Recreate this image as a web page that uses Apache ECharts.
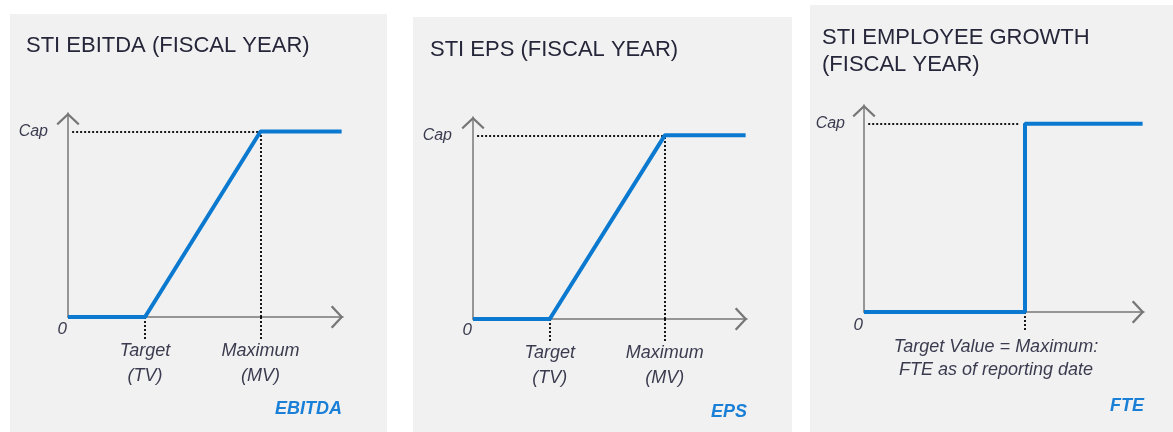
<!DOCTYPE html>
<html>
<head>
<meta charset="utf-8">
<script src="https://cdn.jsdelivr.net/npm/echarts@6/dist/echarts.min.js"></script>
<style>
body{margin:0;width:1173px;height:432px;background:#fff;position:relative;overflow:hidden}
.panel{position:absolute;background:#f1f1f1}
</style>
</head>
<body>
<div id="p1" class="panel" style="left:10px;top:14px;width:377px;height:418px"></div>
<div id="p2" class="panel" style="left:413px;top:17px;width:379px;height:415px"></div>
<div id="p3" class="panel" style="left:810px;top:5px;width:363px;height:427px"></div>
<script>
// payout curves (x: share of axis, y: payout, Cap = 100)
var ebitdaX=[0,28,70,99.5];
var ebitdaY=[0,0,100,100];
var epsX=[0,28,70,99.5];
var epsY=[0,0,100,100];
var fteX=[0,57.5,57.5,99.5];
var fteY=[0,0,100,100];
var capValue=100;

// axis ticks and labels
var yTicks=[0,100];
var yTickLabels=['0','Cap'];
var stiTicks=[28,70];
var stiTickLabels=['Target\n(TV)','Maximum\n(MV)'];
var fteTicks=[57.5];
var fteTickLabels=['Target Value = Maximum:\nFTE as of reporting date'];

var chevron='path://M0,10.6L11.5,0L23,10.6L21.6,12.4L11.5,3L1.4,12.4Z';
var font='Liberation Sans';
var dotted={color:'#000',width:1.8,type:[2,2]};

function makePanel(id,o){
  var chart=echarts.init(document.getElementById(id));
  var pts=o.xs.map(function(x,i){return [x,o.ys[i]];});
  var axisLine={lineStyle:{color:'#777',width:1.5},symbol:['none',chevron],symbolSize:[23,12.4],symbolOffset:[0,-6]};
  chart.setOption({
    animation:false,
    title:[
      {text:o.title,left:o.titleLeft,top:o.titleTop,padding:0,
        textStyle:{fontFamily:font,fontSize:22,fontWeight:'normal',color:'#26263a',lineHeight:27}},
      {text:o.unit,right:o.unitRight,top:o.unitTop,padding:0,
        textStyle:{fontFamily:font,fontSize:18,fontWeight:'bold',fontStyle:'italic',color:'#1a7fd6',lineHeight:18}}
    ],
    grid:{left:o.grid[0],top:o.grid[1],width:o.grid[2],height:o.grid[3],containLabel:false,outerBoundsMode:'none'},
    xAxis:{
      type:'value',min:0,max:100,splitLine:{show:false},
      axisLine:axisLine,
      axisTick:{show:true,customValues:o.ticks,length:o.tickLen,lineStyle:dotted},
      axisLabel:{customValues:o.ticks,margin:o.labelMargin,lineHeight:o.labelLH,padding:[0,o.labelShift*2,0,0],
        fontFamily:font,fontSize:18,fontStyle:'italic',color:'#3b3b50',
        formatter:function(v){var i=o.ticks.indexOf(v);return i<0?'':o.tickLabels[i];}}
    },
    yAxis:{
      type:'value',min:0,max:110,splitLine:{show:false},
      axisLine:axisLine,
      axisTick:{show:false},
      axisLabel:{customValues:yTicks,margin:1,
        formatter:function(v){var i=yTicks.indexOf(v);return i===0?'{z|'+yTickLabels[0]+'}':'{c|'+yTickLabels[1]+'}';},
        rich:{
          z:{padding:[o.zeroDrop*2,0,0,0],fontFamily:font,fontSize:17,fontStyle:'italic',color:'#3b3b50'},
          c:{padding:[0,o.capGap,0,0],fontFamily:font,fontSize:16,fontStyle:'italic',color:'#3b3b50'}
        }}
    },
    series:[{
      type:'line',data:pts,symbol:'none',clip:false,silent:true,z:5,
      lineStyle:{color:'#0a79cf',width:4},
      markLine:{silent:true,symbol:['none','none'],label:{show:false},lineStyle:dotted,
        emphasis:{disabled:true},data:o.guides}
    }]
  });
}

makePanel('p1',{
  title:'STI EBITDA (FISCAL YEAR)',titleLeft:16,titleTop:18,
  unit:'EBITDA',unitRight:45,unitTop:386,
  grid:[58,99,275,204],
  xs:ebitdaX,ys:ebitdaY,
  ticks:stiTicks,tickLabels:stiTickLabels,tickLen:24,labelMargin:21,labelLH:25,labelShift:0,
  zeroDrop:12,capGap:19,
  guides:[
    [{coord:[1.5,capValue]},{coord:[stiTicks[1],capValue]}],
    [{coord:[stiTicks[1],0]},{coord:[stiTicks[1],capValue]}]
  ]
});

makePanel('p2',{
  title:'STI EPS (FISCAL YEAR)',titleLeft:17,titleTop:19,
  unit:'EPS',unitRight:45,unitTop:386,
  grid:[60,100,274,202],
  xs:epsX,ys:epsY,
  ticks:stiTicks,tickLabels:stiTickLabels,tickLen:24,labelMargin:21,labelLH:25,labelShift:0,
  zeroDrop:11,capGap:20,
  guides:[
    [{coord:[1.5,capValue]},{coord:[stiTicks[1],capValue]}],
    [{coord:[stiTicks[1],0]},{coord:[stiTicks[1],capValue]}]
  ]
});

makePanel('p3',{
  title:'STI EMPLOYEE GROWTH\n(FISCAL YEAR)',titleLeft:12,titleTop:19,
  unit:'FTE',unitRight:29,unitTop:392,
  grid:[54,100,280,207],
  xs:fteX,ys:fteY,
  ticks:fteTicks,tickLabels:fteTickLabels,tickLen:18,labelMargin:23,labelLH:23,labelShift:29,
  zeroDrop:13,capGap:18,
  guides:[
    [{coord:[1.5,capValue]},{coord:[fteTicks[0]-1.8,capValue]}]
  ]
});
</script>
</body>
</html>
